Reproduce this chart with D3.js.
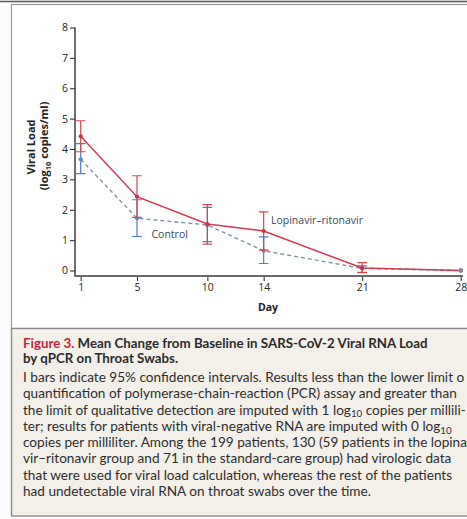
<!DOCTYPE html>
<html>
<head>
<meta charset="utf-8">
<script src="https://cdn.jsdelivr.net/npm/d3@7"></script>
<style>
  html, body { margin: 0; padding: 0; background: #ffffff; overflow: hidden; }
  svg { display: block; }
</style>
</head>
<body>
<script>
// Study days on the x axis
const days = [1, 5, 10, 14, 21, 28];
const dayTicks = [1, 5, 10, 14, 21, 28];
const loadTicks = [0, 1, 2, 3, 4, 5, 6, 7, 8];

// Lopinavir–ritonavir group: mean and 95% CI (log10 copies/ml)
const lopinavirMean = [4.42, 2.43, 1.53, 1.30, 0.08, 0.00];
const lopinavirLow  = [3.91, 1.75, 0.87, 0.67, -0.06, null];
const lopinavirHigh = [4.93, 3.12, 2.17, 1.93, 0.26, null];

// Standard-care (control) group
const controlMean = [3.66, 1.72, 1.50, 0.65, 0.07, 0.00];
const controlLow  = [3.19, 1.12, 0.95, 0.23, -0.07, null];
const controlHigh = [4.18, 2.33, 2.08, 1.11, 0.15, null];

// Caption text
const captionTitle = ["Mean Change from Baseline in SARS-CoV-2 Viral RNA Load", "by qPCR on Throat Swabs."];
const captionBody = [
  ["I bars indicate 95% confidence intervals. Results less than the lower limit o"],
  ["quantification of polymerase-chain-reaction (PCR) assay and greater than"],
  ["the limit of qualitative detection are imputed with 1 log", "10", " copies per millili-"],
  ["ter; results for patients with viral-negative RNA are imputed with 0 log", "10"],
  ["copies per milliliter. Among the 199 patients, 130 (59 patients in the lopina"],
  ["vir\u2013ritonavir group and 71 in the standard-care group) had virologic data"],
  ["that were used for viral load calculation, whereas the rest of the patients"],
  ["had undetectable viral RNA on throat swabs over the time."]
];

const W = 467, H = 519;
const svg = d3.select("body").append("svg").attr("width", W).attr("height", H);

// ---- frame ----
svg.append("rect").attr("x", 0).attr("y", 0).attr("width", W).attr("height", H).attr("fill", "#fbfbfb");
svg.append("rect").attr("x", 11.5).attr("y", 4.5).attr("width", W).attr("height", 324).attr("fill", "#ffffff")
  .attr("stroke", "#9a9a9a").attr("stroke-width", 1.2);
svg.append("line").attr("x1", 0).attr("x2", W).attr("y1", 1.5).attr("y2", 1.5)
  .attr("stroke", "#5a5a5a").attr("stroke-width", 1.6);
svg.append("rect").attr("x", 11.5).attr("y", 328.5).attr("width", W).attr("height", 187.5)
  .attr("fill", "#f3f0e9").attr("stroke", "#8a8a8a").attr("stroke-width", 1.4);

// ---- scales ----
const x = d3.scaleLinear().domain([1, 28]).range([80.7, 460.7]);
const y = d3.scaleLinear().domain([0, 8]).range([270.5, 27.5]);
const axisFont = "'Open Sans', 'DejaVu Sans', sans-serif";

// y axis
const yAxis = svg.append("g").attr("transform", "translate(75,0)")
  .call(d3.axisLeft(y).tickValues(loadTicks).tickSize(5).tickPadding(2).tickFormat(d3.format("d")));
yAxis.select(".domain").remove();
yAxis.selectAll(".tick line").attr("stroke", "#333").attr("stroke-width", 1.1);
yAxis.selectAll(".tick text").attr("font-family", axisFont).attr("font-size", 10.5).attr("fill", "#1e1e1e");
svg.append("line").attr("x1", 75).attr("x2", 75).attr("y1", y(8)).attr("y2", 276.5)
  .attr("stroke", "#333").attr("stroke-width", 1.4);

// x axis
const xAxis = svg.append("g").attr("transform", "translate(0,276)")
  .call(d3.axisBottom(x).tickValues(dayTicks).tickSize(5).tickPadding(3).tickFormat(d3.format("d")));
xAxis.select(".domain").remove();
xAxis.selectAll(".tick line").attr("stroke", "#333").attr("stroke-width", 1.1);
xAxis.selectAll(".tick text").attr("font-family", axisFont).attr("font-size", 10.5).attr("fill", "#1e1e1e");
svg.append("line").attr("x1", 74.3).attr("x2", 463).attr("y1", 276).attr("y2", 276)
  .attr("stroke", "#6a6a6a").attr("stroke-width", 2);

// axis titles
svg.append("text").attr("x", 268).attr("y", 311).attr("text-anchor", "middle")
  .attr("font-family", axisFont).attr("font-size", 10.5).attr("font-weight", "bold").attr("fill", "#222").text("Day");
svg.append("text").attr("transform", "translate(34.5,147) rotate(-90)").attr("text-anchor", "middle")
  .attr("font-family", axisFont).attr("font-size", 11).attr("font-weight", "bold").attr("fill", "#222").text("Viral Load");
const yl2 = svg.append("text").attr("transform", "translate(48,146) rotate(-90)").attr("text-anchor", "middle")
  .attr("font-family", axisFont).attr("font-size", 11).attr("font-weight", "bold").attr("fill", "#222");
yl2.append("tspan").text("(log");
yl2.append("tspan").attr("font-size", 7.5).attr("dy", 3).text("10");
yl2.append("tspan").attr("dy", -3).text(" copies/ml)");

// ---- series ----
function series(mean, low, high, opts) {
  const pts = days.map((d, i) => ({ day: d, m: mean[i], lo: low[i], hi: high[i] }));
  const g = svg.append("g");
  g.append("path").datum(pts)
    .attr("d", d3.line().x(p => x(p.day)).y(p => y(p.m)))
    .attr("fill", "none").attr("stroke", opts.line).attr("stroke-width", opts.width)
    .attr("stroke-dasharray", opts.dash);
  const bars = pts.filter(p => p.lo !== null);
  g.selectAll(".bar").data(bars).enter().append("path")
    .attr("d", p => {
      const cx = x(p.day), y1 = y(p.hi), y2 = y(p.lo), c = 4.8;
      return `M${cx},${y1}V${y2}M${cx - c},${y1}H${cx + c}M${cx - c},${y2}H${cx + c}`;
    })
    .attr("fill", "none").attr("stroke", opts.bar).attr("stroke-width", 1.2);
  g.selectAll(".pt").data(pts).enter().append("circle")
    .attr("cx", p => x(p.day)).attr("cy", p => y(p.m)).attr("r", 2.1)
    .attr("fill", opts.dot);
}

series(controlMean, controlLow, controlHigh,
  { line: "#7f93a6", width: 1.4, dash: "4,3", bar: "#4f7cc0", dot: "#5f86c2" });
series(lopinavirMean, lopinavirLow, lopinavirHigh,
  { line: "#d3384f", width: 1.5, dash: null, bar: "#d4484c", dot: "#cf3046" });

// day 28 values coincide
svg.append("circle").attr("cx", x(28)).attr("cy", y(0)).attr("r", 2.3).attr("fill", "#7f8a96");

// series labels
svg.append("text").attr("x", 151.5).attr("y", 238).attr("font-family", axisFont).attr("font-size", 10.5)
  .attr("fill", "#3b4a5c").text("Control");
svg.append("text").attr("x", 271).attr("y", 224).attr("font-family", axisFont).attr("font-size", 10.5)
  .attr("fill", "#3b4a5c").text("Lopinavir\u2013ritonavir");

// ---- caption ----
const capFont = "Lato, 'Open Sans', sans-serif";
const title = svg.append("g").attr("font-family", capFont).attr("font-weight", "bold");
const t1 = title.append("text").attr("x", 23).attr("y", 347.5).attr("font-size", 13.5).attr("fill", "#2b2b2b");
t1.append("tspan").attr("fill", "#cc1f3c").text("Figure 3.");
t1.append("tspan").text(" " + captionTitle[0]);
const t2 = title.append("text").attr("x", 23).attr("y", 363).attr("font-size", 13.5).attr("fill", "#2b2b2b")
  .text(captionTitle[1]);
// fit title so its first line ends near x = 428
const tw = t1.node().getComputedTextLength();
const tSize = 13.5 * 405 / tw;
t1.attr("font-size", tSize); t2.attr("font-size", tSize);

const body = svg.append("g").attr("font-family", capFont).attr("fill", "#2e2e2e");
const bodyY = [381.5, 398, 414.5, 431, 447, 463.3, 479.7, 496];
const lines = body.selectAll("text").data(captionBody).enter().append("text")
  .attr("x", 23).attr("y", (d, i) => bodyY[i]).attr("font-size", 12.5);
lines.each(function (parts) {
  const t = d3.select(this);
  parts.forEach((s, k) => {
    if (k % 2 === 1) t.append("tspan").attr("class", "sub").attr("dy", 2.5).attr("font-size", 9).text(s);
    else t.append("tspan").attr("dy", k > 0 ? -2.5 : 0).text(s);
  });
});
// fit body so the second line spans 23 -> 457
const refW = lines.filter((d, i) => i === 1).node().getComputedTextLength();
const bSize = 12.5 * 434 / refW;
lines.attr("font-size", bSize);
lines.selectAll(".sub").attr("font-size", bSize * 0.72);
</script>
</body>
</html>
